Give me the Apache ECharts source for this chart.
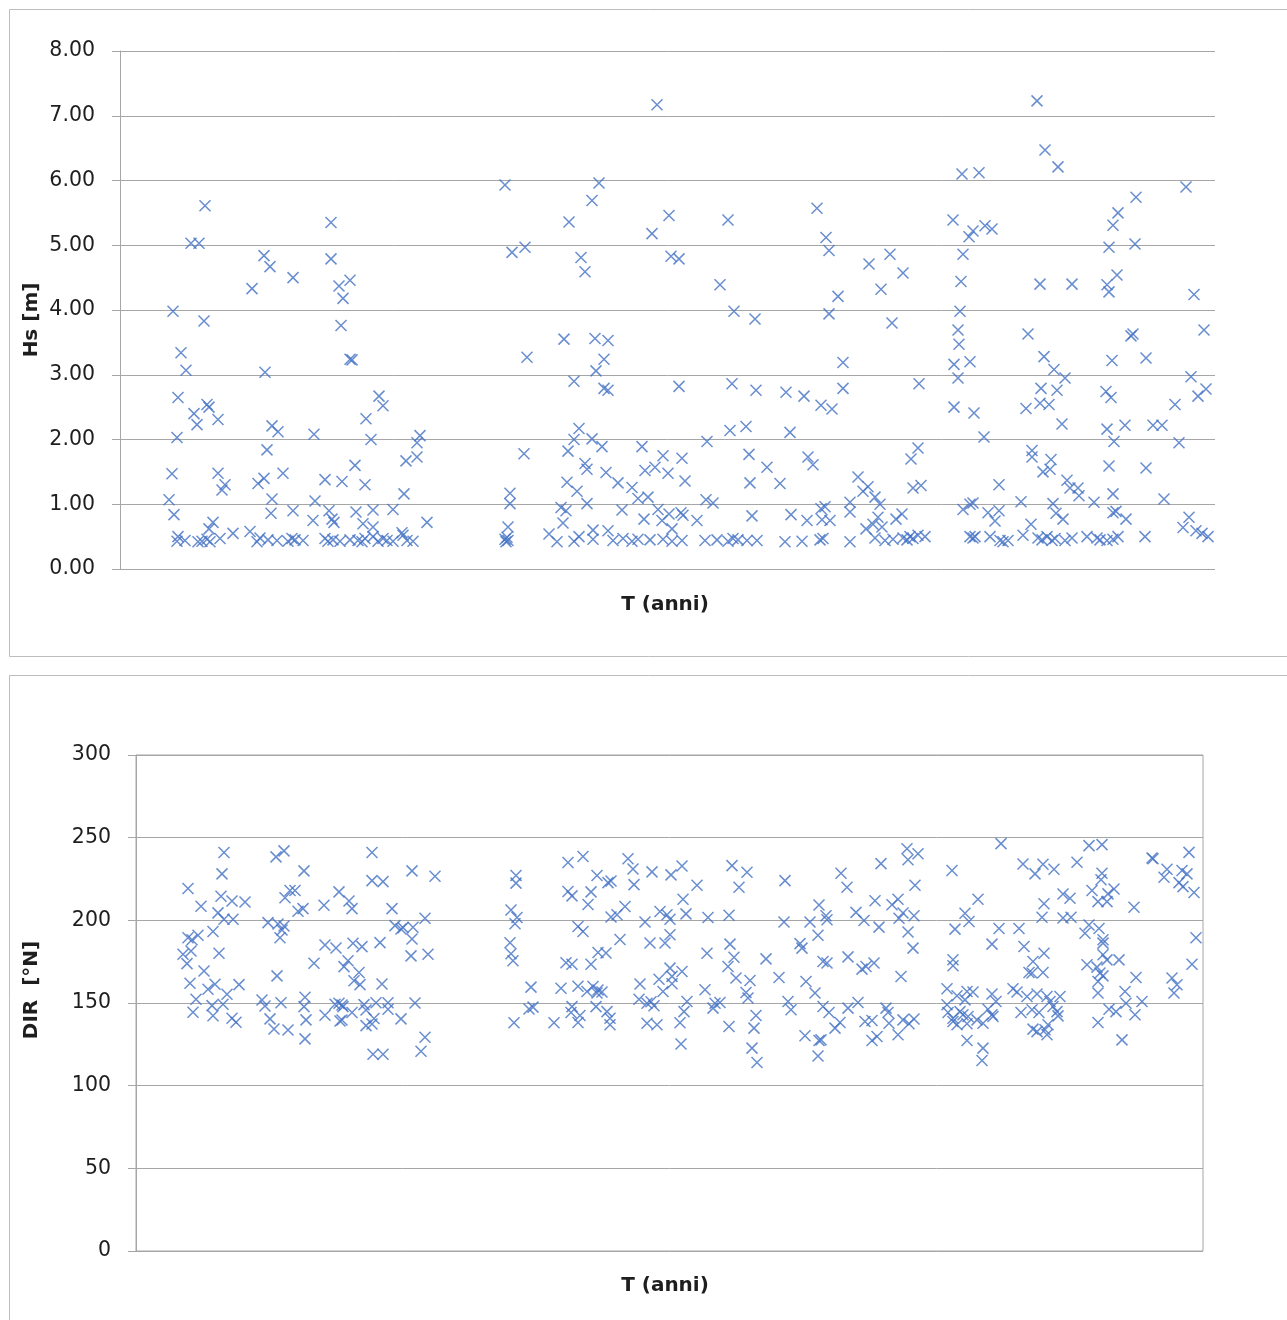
<!DOCTYPE html>
<html>
<head>
<meta charset="utf-8">
<script src="https://cdn.jsdelivr.net/npm/echarts@6/dist/echarts.min.js"></script>
<style>
  html, body { margin: 0; padding: 0; background: #ffffff; }
  #chart { width: 1287px; height: 1320px; }
</style>
</head>
<body>
<div id="chart"></div>
<script>
// Significant wave height: day from start of record, Hs in metres
const hsDay = [
  85,71,79,211,144,150,173,211,132,230,
  219,223,53,84,221,61,66,145,230,232,
  58,74,77,87,89,98,259,263,246,152,
  158,194,251,57,300,297,147,297,286,235,
  52,98,163,205,144,138,222,105,102,245,
  49,152,195,284,54,151,173,209,236,253,
  273,193,212,214,243,307,93,89,113,130,
  253,282,58,57,65,78,82,87,90,100,
  137,140,148,157,168,172,175,183,205,208,
  213,220,230,238,242,245,253,258,263,267,
  273,283,287,293,
  537,385,479,472,449,549,532,608,697,706,
  709,392,405,461,465,551,559,600,614,635,
  718,709,444,475,488,407,484,476,454,484,
  488,559,612,636,666,684,701,712,723,723,
  459,454,472,482,448,404,522,610,626,587,
  670,629,543,562,465,467,525,535,486,548,
  647,688,693,498,512,565,630,660,447,457,
  390,390,518,528,586,593,467,441,446,502,
  538,549,561,563,577,524,542,552,632,671,
  687,701,705,702,710,730,730,738,443,388,
  429,488,473,459,385,386,387,388,437,454,
  473,493,503,512,518,530,543,552,562,585,
  597,608,613,618,627,637,665,682,700,703,730,
  917,925,938,842,859,1066,1016,998,993,833,
  853,849,865,872,989,1015,843,749,770,783,
  761,841,920,952,987,989,997,1074,840,772,
  838,839,908,1011,1013,1084,924,934,945,834,
  850,992,1026,838,799,1071,921,937,986,991,
  1086,1078,920,929,906,834,854,1055,942,987,
  1005,1033,1042,994,1059,864,798,791,912,912,
  931,930,923,989,1026,879,793,801,947,950,
  958,959,993,1044,748,743,755,760,901,933,
  974,853,850,843,868,879,875,936,943,993,
  996,1006,1069,1063,782,776,758,762,753,746,
  911,1076,1082,1088,755,765,773,783,787,790,
  793,798,805,850,853,855,870,880,883,888,
  903,918,922,927,932,935,945,952,967,977,
  980,987,993,998,1025
];
const hsM = [
  5.61,5.03,5.03,5.35,4.84,4.67,4.50,4.79,4.33,4.46,
  4.37,4.18,3.98,3.83,3.76,3.34,3.07,3.04,3.24,3.23,
  2.65,2.40,2.23,2.54,2.50,2.31,2.67,2.52,2.32,2.21,
  2.12,2.08,2.00,2.03,2.06,1.95,1.84,1.73,1.67,1.60,
  1.47,1.48,1.48,1.38,1.40,1.32,1.35,1.30,1.22,1.30,
  1.07,1.08,1.05,1.16,0.84,0.86,0.90,0.90,0.88,0.91,
  0.92,0.75,0.77,0.72,0.70,0.72,0.72,0.62,0.55,0.58,
  0.65,0.56,0.50,0.43,0.44,0.42,0.43,0.46,0.42,0.47,
  0.42,0.48,0.45,0.44,0.43,0.47,0.45,0.44,0.47,0.43,
  0.45,0.43,0.45,0.44,0.42,0.47,0.50,0.43,0.47,0.44,
  0.43,0.52,0.44,0.43,
  7.17,5.93,5.96,5.69,5.36,5.46,5.18,5.39,5.57,5.12,
  4.92,4.89,4.97,4.81,4.59,4.83,4.79,4.39,3.98,3.86,
  4.21,3.94,3.55,3.56,3.53,3.27,3.24,3.06,2.90,2.79,
  2.76,2.82,2.86,2.76,2.73,2.67,2.53,2.47,3.19,2.79,
  2.17,2.00,2.01,1.89,1.82,1.78,1.89,2.14,2.20,1.97,
  2.11,1.77,1.75,1.71,1.63,1.54,1.52,1.57,1.49,1.48,
  1.57,1.73,1.61,1.33,1.26,1.36,1.33,1.32,1.34,1.20,
  1.17,1.01,1.09,1.11,1.07,1.02,1.01,0.95,0.90,0.91,
  0.92,0.85,0.87,0.83,0.75,0.77,0.75,0.62,0.82,0.84,
  0.75,0.93,0.96,0.76,0.75,1.03,0.88,1.42,0.71,0.65,
  0.54,0.59,0.60,0.50,0.46,0.42,0.49,0.44,0.42,0.43,
  0.46,0.44,0.47,0.43,0.46,0.45,0.46,0.43,0.44,0.44,
  0.45,0.43,0.47,0.45,0.44,0.44,0.42,0.43,0.45,0.47,0.42,
  7.23,6.47,6.21,6.10,6.12,5.90,5.74,5.50,5.31,5.39,
  5.22,5.13,5.30,5.25,4.97,5.02,4.86,4.71,4.86,4.57,
  4.32,4.44,4.40,4.40,4.39,4.28,4.54,4.24,3.98,3.80,
  3.69,3.47,3.63,3.60,3.63,3.69,3.28,3.08,2.95,3.16,
  3.20,3.22,3.26,2.95,2.86,2.97,2.79,2.76,2.74,2.65,
  2.78,2.67,2.56,2.54,2.48,2.50,2.41,2.54,2.24,2.16,
  2.22,2.22,2.22,1.97,1.95,2.04,1.87,1.70,1.83,1.73,
  1.69,1.54,1.50,1.59,1.56,1.30,1.25,1.29,1.37,1.25,
  1.25,1.13,1.16,1.08,1.27,1.20,1.11,1.00,1.04,1.01,
  1.03,1.02,1.00,0.92,0.87,0.90,0.74,0.86,0.77,0.87,
  0.89,0.77,0.80,0.64,0.85,0.77,0.80,0.65,0.69,0.62,
  0.69,0.59,0.55,0.50,0.48,0.44,0.46,0.48,0.45,0.50,
  0.47,0.52,0.50,0.50,0.48,0.50,0.50,0.44,0.42,0.44,
  0.52,0.48,0.45,0.50,0.44,0.47,0.44,0.48,0.50,0.48,
  0.45,0.44,0.46,0.50,0.50
];

// Mean wave direction: day from start of record, direction in degrees North
const dirDay = [
  88,86,52,65,85,96,109,82,88,97,
  140,148,168,149,154,159,162,167,188,203,
  213,216,236,236,247,256,259,265,52,56,
  62,77,47,55,51,83,68,54,72,79,
  103,91,60,76,87,57,77,96,100,141,
  178,132,142,148,146,144,189,200,217,226,
  244,212,208,223,218,224,246,126,129,145,
  169,168,134,138,152,170,169,189,199,206,
  207,203,204,206,216,228,230,240,238,230,
  236,252,252,265,237,247,276,299,289,267,
  277,276,275,292,279,289,285,380,380,375,
  381,379,374,375,377,378,395,393,397,418,
  432,447,461,472,475,432,436,455,452,492,
  497,498,516,535,489,481,475,442,447,484,
  509,524,531,514,529,462,470,430,436,455,
  425,442,451,457,461,466,462,504,523,527,
  534,436,435,444,442,460,471,474,474,503,
  511,515,518,511,521,771,772,782,745,705,
  711,779,649,596,611,603,546,561,547,550,
  572,593,534,648,674,683,690,691,682,720,
  728,739,743,756,762,767,763,778,772,777,
  594,598,571,630,664,666,712,687,691,726,
  730,738,765,534,546,536,536,569,592,600,
  614,610,612,643,670,679,551,548,544,545,
  579,584,577,593,620,618,616,621,652,655,
  687,693,704,699,669,683,685,682,712,722,
  729,736,736,741,750,752,753,762,767,773,
  778,865,953,966,1053,1016,1017,816,887,899,
  907,918,941,966,965,1031,1028,1046,1051,1043,
  1047,1058,842,829,833,819,863,883,908,906,
  927,934,927,935,956,962,971,972,978,998,
  953,949,963,967,967,1060,856,888,908,897,
  817,817,893,896,907,967,971,983,951,961,
  964,967,962,1000,1036,1041,1038,1056,989,962,
  1006,990,973,980,999,962,986,811,821,831,
  837,829,856,860,811,812,817,824,827,832,
  821,831,817,841,847,852,856,857,831,847,
  846,877,881,891,901,911,924,885,896,903,
  914,917,921,922,897,901,909,911,912
];
const dirDeg = [
  241,228.1,219.2,208.5,214.6,211.7,211.1,204.5,200.7,200.7,
  238.4,242,229.9,213.7,218,218,205.5,207.1,209.1,217.2,
  211.7,207.1,241,224,223.4,207.1,196.8,194.8,189.5,188.3,
  191,193.2,179.5,181.5,173.8,180.1,169.4,161.9,158.3,161.3,
  161.1,155.3,152.3,148.4,149.2,144.4,142.3,140.8,138.4,166.4,
  174,198.6,197.8,196.6,194.2,189.5,185.1,183.3,186.1,184.1,
  186.5,175.6,172,168.4,163.5,161.1,161.5,151.8,148.2,150.2,
  153.5,147.8,140.4,134.3,133.7,139.8,128.3,142.6,149.2,148.8,
  147.8,149.8,139.1,139.7,144.2,149,145.8,150.2,140.6,136.3,
  137.3,150.2,146.2,140.4,119,119,229.9,226.7,201.3,195.6,
  195.8,188.7,178.5,179.5,150,129.3,120.8,227.1,222.5,206.3,
  201.7,197.9,186.4,179.8,175.6,138,159.6,146.4,147.5,138,
  235,238.6,227.1,222.8,223.8,217.4,214.8,217.2,209.6,237.3,
  231.1,221.6,229.3,227.5,208.4,203.4,202,196.3,193.3,188.4,
  199,205.4,203.4,186.3,186.3,180.6,180.2,174.4,173.4,173.4,
  158.9,160.1,157,160,156,156.6,157.9,161.5,164.4,157,
  171.1,147.8,144.2,142.4,138.2,147.8,144.8,140.8,136.8,152.3,
  149.9,150.7,148.3,137.8,136.8,243.3,236.7,240.3,234.3,228.5,
  220,221.2,224,233.1,229.1,220,232.9,221.2,212.8,203.9,
  201.7,203.1,200.7,199,199,209.3,202.8,200.4,191,204.8,
  199.9,211.9,195.9,209.4,212.8,204.4,201.3,202.8,192.9,183.2,
  185.6,177.7,180.1,176.7,185.9,183.2,177.9,175.1,174.2,170.5,
  172.1,174.2,166,191.3,169.1,166.1,161.6,158,172.1,165.1,
  163.6,156.4,153,165.4,163,156.1,150.9,144.8,138.1,125.2,
  149.9,150.3,146.9,135.8,142.4,134.8,122.7,114,150.9,145.9,
  147.9,144.2,138.2,134.8,130.2,127.3,127.7,118,146.9,150.3,
  138.8,139.4,127.3,129.7,146.9,144.2,137.8,130.8,139.8,137.4,
  140.3,246.4,245.2,245.8,241.1,237.7,237.2,230.1,234.1,228.1,
  233.9,230.9,235.1,228.5,224.5,230.9,226.1,230.1,228.1,222.8,
  220.4,216.8,212.8,204.3,199.3,194.7,195.1,195.1,210,201.9,
  215.9,213.4,201.4,201.9,218,211.3,211.3,216,219,207.9,
  197.2,192.2,195.1,188.2,186.2,189.5,185.6,184.2,180.1,175.1,
  176.2,172.5,168.5,168.1,168.5,179.2,176.1,176.1,173.1,171.7,
  168.1,166.4,163,165.4,165.1,161,156,173.4,157,156,
  150.9,149.9,146.2,144.8,142.9,138.2,127.7,158.6,154.4,157,
  156.6,151.9,155.4,150.9,148.9,144.2,140.8,144.8,142.9,141.8,
  136.8,137.4,138.8,139.8,137.8,146.2,142.9,141.8,127.3,122.7,
  115.2,158.6,156.6,153.9,155.5,153.9,153.9,144.2,145.9,144.2,
  150.9,147.9,144.8,142.2,134.2,132.7,133.8,130.8,136.8
];

// Axis ranges
const HS_RANGE = [0, 8, 1];
const DIR_RANGE = [0, 300, 50];
const HS_SPAN_DAYS = 1095;
const DIR_SPAN_DAYS = 1067;

const GRID_GREY = '#a6a6a6';
const TEXT_DARK = '#1e1e1e';
const MARKER_BLUE = '#4472C4';
const CROSS = 'path://M0,0L10,10M10,0L0,10';

function zip(xs, ys) {
  const n = Math.min(xs.length, ys.length);
  const out = [];
  for (let i = 0; i < n; i++) out.push([xs[i], ys[i]]);
  return out;
}

function valueAxis(gridIndex, range, digits) {
  return {
    type: 'value', gridIndex: gridIndex,
    min: range[0], max: range[1], interval: range[2],
    axisLine: { show: true, lineStyle: { color: GRID_GREY, width: 1 } },
    axisTick: { show: true, length: 8, lineStyle: { color: GRID_GREY, width: 1 } },
    splitLine: { show: true, lineStyle: { color: GRID_GREY, width: 1 } },
    axisLabel: {
      margin: 25, fontSize: 20.5, fontFamily: 'DejaVu Sans', color: TEXT_DARK,
      formatter: v => v.toFixed(digits)
    }
  };
}

function crossSeries(axisIndex, data) {
  return {
    type: 'scatter', xAxisIndex: axisIndex, yAxisIndex: axisIndex,
    data: data, symbol: CROSS, symbolSize: 11, silent: true,
    itemStyle: { color: 'rgba(0,0,0,0)', borderColor: MARKER_BLUE, borderWidth: 1.5 },
    emphasis: { disabled: true }, animation: false
  };
}

function titleText(text, x, y, rotated) {
  return {
    type: 'text', x: x, y: y, rotation: rotated ? Math.PI / 2 : 0, z: 10,
    style: {
      text: text, textAlign: 'center', textVerticalAlign: 'middle',
      font: 'bold 20px "DejaVu Sans"', fill: TEXT_DARK
    }
  };
}

const chart = echarts.init(document.getElementById('chart'), null, { renderer: 'canvas' });

chart.setOption({
  animation: false,
  backgroundColor: '#ffffff',
  grid: [
    { left: 120, right: 72, top: 51, bottom: 751 },
    { left: 136, right: 84, top: 755, bottom: 69, show: true,
      borderColor: GRID_GREY, borderWidth: 1, backgroundColor: 'transparent' }
  ],
  xAxis: [
    { type: 'value', gridIndex: 0, min: 0, max: HS_SPAN_DAYS, show: false },
    { type: 'value', gridIndex: 1, min: 0, max: DIR_SPAN_DAYS, show: false }
  ],
  yAxis: [
    valueAxis(0, HS_RANGE, 2),
    valueAxis(1, DIR_RANGE, 0)
  ],
  series: [
    crossSeries(0, zip(hsDay, hsM)),
    crossSeries(1, zip(dirDay, dirDeg))
  ],
  graphic: [
    { type: 'rect', z: -10, shape: { x: 9.5, y: 9.5, width: 1300, height: 647 },
      style: { fill: 'none', stroke: '#bdbdbd', lineWidth: 1 } },
    { type: 'rect', z: -10, shape: { x: 9.5, y: 675.5, width: 1300, height: 700 },
      style: { fill: 'none', stroke: '#bdbdbd', lineWidth: 1 } },
    titleText('Hs [m]', 32, 320, true),
    titleText('T (anni)', 665, 605, false),
    titleText('DIR  [°N]', 32, 990, true),
    titleText('T (anni)', 665, 1286, false)
  ]
});
</script>
</body>
</html>
